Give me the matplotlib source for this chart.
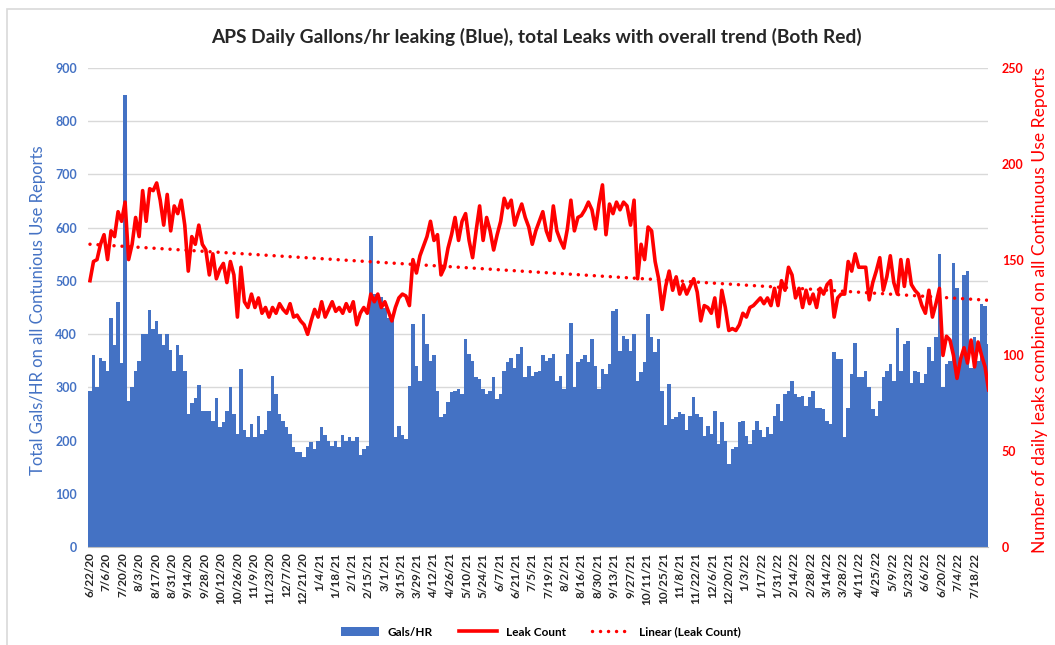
import numpy as np
import pandas as pd
import matplotlib
matplotlib.use("Agg")
import matplotlib.pyplot as plt
from matplotlib.patches import Patch, Rectangle
from matplotlib.lines import Line2D

plt.rcParams["font.family"] = ["Lato", "DejaVu Sans"]

BLUE = "#4472C4"
RED = "#FF0000"

# readings every 3 days starting 6/22/20
start_date = "2020-06-22"
step_days = 3

gals_hr = [
    294, 360, 300, 355, 350, 330, 430, 380, 460, 345,
    850, 275, 300, 330, 350, 400, 400, 445, 410, 425,
    400, 380, 400, 370, 330, 380, 360, 330, 250, 270,
    280, 305, 255, 255, 255, 237, 280, 225, 235, 255,
    300, 250, 212, 335, 220, 206, 231, 206, 247, 212,
    219, 256, 322, 287, 250, 237, 225, 212, 187, 178,
    178, 169, 187, 197, 184, 200, 225, 210, 200, 190,
    200, 187, 210, 200, 206, 200, 206, 172, 184, 190,
    585, 475, 470, 470, 450, 430, 430, 206, 228, 210,
    203, 303, 419, 340, 312, 437, 381, 350, 360, 294,
    244, 250, 272, 291, 294, 297, 287, 390, 362, 350,
    320, 316, 297, 287, 294, 319, 278, 287, 331, 347,
    356, 337, 362, 375, 319, 340, 322, 328, 331, 360,
    350, 356, 362, 312, 322, 297, 362, 420, 300, 347,
    353, 360, 347, 390, 340, 297, 334, 325, 344, 444,
    447, 369, 397, 390, 369, 400, 312, 328, 347, 437,
    394, 366, 390, 294, 230, 306, 241, 244, 253, 250,
    219, 247, 281, 250, 244, 209, 228, 212, 256, 194,
    234, 200, 156, 184, 187, 234, 237, 209, 194, 219,
    237, 219, 206, 225, 212, 247, 269, 237, 287, 294,
    312, 287, 281, 284, 265, 281, 294, 262, 262, 259,
    237, 231, 366, 353, 353, 206, 262, 325, 384, 319,
    319, 330, 300, 259, 247, 275, 319, 330, 344, 312,
    412, 330, 381, 387, 309, 331, 328, 309, 325, 375,
    350, 394, 550, 300, 344, 350, 534, 487, 350, 512,
    519, 337, 394, 350, 456, 453, 381,
]

leak_count = [
    139, 149, 150, 158, 163, 150, 165, 162, 175, 170,
    180, 150, 158, 172, 162, 186, 170, 187, 186, 190,
    181, 168, 184, 165, 178, 174, 181, 168, 144, 162,
    158, 168, 158, 155, 142, 153, 140, 145, 148, 138,
    149, 142, 120, 146, 128, 125, 132, 125, 130, 122,
    125, 120, 125, 122, 127, 124, 122, 127, 120, 121,
    118, 116, 111, 118, 124, 120, 128, 120, 124, 128,
    123, 125, 122, 127, 123, 128, 116, 122, 125, 122,
    132, 128, 132, 125, 128, 123, 118, 125, 130, 132,
    131, 126, 150, 143, 152, 157, 162, 170, 160, 163,
    142, 146, 156, 163, 172, 160, 170, 174, 160, 151,
    165, 178, 160, 172, 165, 155, 163, 170, 182, 177,
    181, 168, 174, 179, 172, 167, 158, 165, 170, 175,
    165, 160, 178, 165, 160, 156, 166, 181, 165, 172,
    173, 176, 180, 176, 166, 179, 189, 163, 179, 174,
    180, 176, 180, 178, 168, 181, 140, 158, 150, 167,
    165, 149, 140, 124, 136, 144, 134, 141, 132, 137,
    132, 136, 140, 133, 118, 126, 125, 122, 130, 115,
    134, 125, 113, 114, 113, 116, 122, 120, 125, 126,
    128, 130, 127, 130, 126, 135, 126, 139, 134, 146,
    142, 130, 135, 125, 134, 127, 132, 125, 135, 132,
    137, 139, 120, 130, 132, 132, 149, 144, 153, 146,
    146, 146, 129, 138, 144, 151, 134, 141, 152, 138,
    132, 150, 136, 150, 137, 134, 132, 126, 122, 134,
    120, 127, 135, 100, 110, 108, 100, 88, 98, 104,
    96, 108, 94, 107, 100, 94, 82,
]

title = "APS Daily Gallons/hr leaking (Blue), total Leaks with overall trend (Both Red)"
left_label = "Total Gals/HR on all Contunious Use Reports"
right_label = "Number of daily leaks combined on all Continuous Use Reports"

dates = pd.date_range(start_date, periods=len(gals_hr), freq=f"{step_days}D")
tick_dates = pd.date_range("2020-06-22", "2022-07-18", freq="14D")

# Excel-style linear trendline over the leak series
idx = np.arange(len(leak_count))
slope, intercept = np.polyfit(idx, leak_count, 1)
trend = slope * idx + intercept

fig = plt.figure(figsize=(10.55, 6.45), dpi=100)
fig.patches.append(Rectangle((7 / 1055, -0.05), 1.1, (645 - 9) / 645 + 0.05,
                             transform=fig.transFigure, fill=False,
                             edgecolor="#D9D9D9", lw=1.2))

ax = fig.add_axes([88 / 1055, 98 / 645, 900 / 1055, 479 / 645])
ax.bar(dates, gals_hr, width=step_days, color=BLUE, linewidth=0, zorder=2)
ax.set_ylim(0, 900)
ax.set_yticks(range(0, 901, 100))
ax.set_xlim(pd.Timestamp(start_date) - pd.Timedelta(days=1.7),
            pd.Timestamp(start_date) + pd.Timedelta(days=767.5))
ax.grid(axis="y", color="#D9D9D9", lw=1, zorder=0)
ax.set_axisbelow(True)
for s in ["top", "left", "right"]:
    ax.spines[s].set_visible(False)
ax.spines["bottom"].set_color("#BFBFBF")
ax.tick_params(axis="y", length=0, colors=BLUE, labelsize=9, pad=8)
for t in ax.get_yticklabels():
    t.set_fontweight("bold")

ax.set_xticks(tick_dates)
ax.set_xticklabels([f"{d.month}/{d.day}/{d.year % 100}" for d in tick_dates],
                   rotation=90, fontsize=8.5, fontweight="bold", color="#262626")
ax.tick_params(axis="x", length=0, pad=4)

ax2 = ax.twinx()
ax2.plot(dates, leak_count, color=RED, lw=2.6, solid_joinstyle="round", zorder=3)
ax2.plot(dates, trend, color=RED, lw=2.5, linestyle=(0, (0.01, 2.3)),
         dash_capstyle="round", zorder=4)
ax2.set_ylim(0, 250)
ax2.set_yticks(range(0, 251, 50))
for s in ax2.spines.values():
    s.set_visible(False)
ax2.tick_params(axis="y", length=0, colors=RED, labelsize=9, pad=10)
for t in ax2.get_yticklabels():
    t.set_fontweight("bold")

fig.text(536 / 1055, 1 - 37 / 645, title, ha="center", va="center",
         fontsize=13.8, fontweight="bold", color="#262626")
fig.text(38 / 1055, 1 - 310 / 645, left_label, rotation=90, ha="center",
         va="center", fontsize=12, color=BLUE)
fig.text(1040 / 1055, 1 - 310 / 645, right_label, rotation=90, ha="center",
         va="center", fontsize=12.6, color=RED)

handles = [
    Patch(facecolor=BLUE, edgecolor="none"),
    Line2D([], [], color=RED, lw=2.6),
    Line2D([], [], color=RED, lw=2.5, linestyle=(0, (0.01, 2.3)),
           dash_capstyle="round"),
]
fig.legend(handles, ["Gals/HR", "Leak Count", "Linear (Leak Count)"],
           loc="center", bbox_to_anchor=(541 / 1055, 1 - 632 / 645), ncol=3,
           frameon=False, handlelength=3.2, columnspacing=2.2,
           prop={"weight": "bold", "size": 8.5})

fig.savefig("out.png", dpi=100)
